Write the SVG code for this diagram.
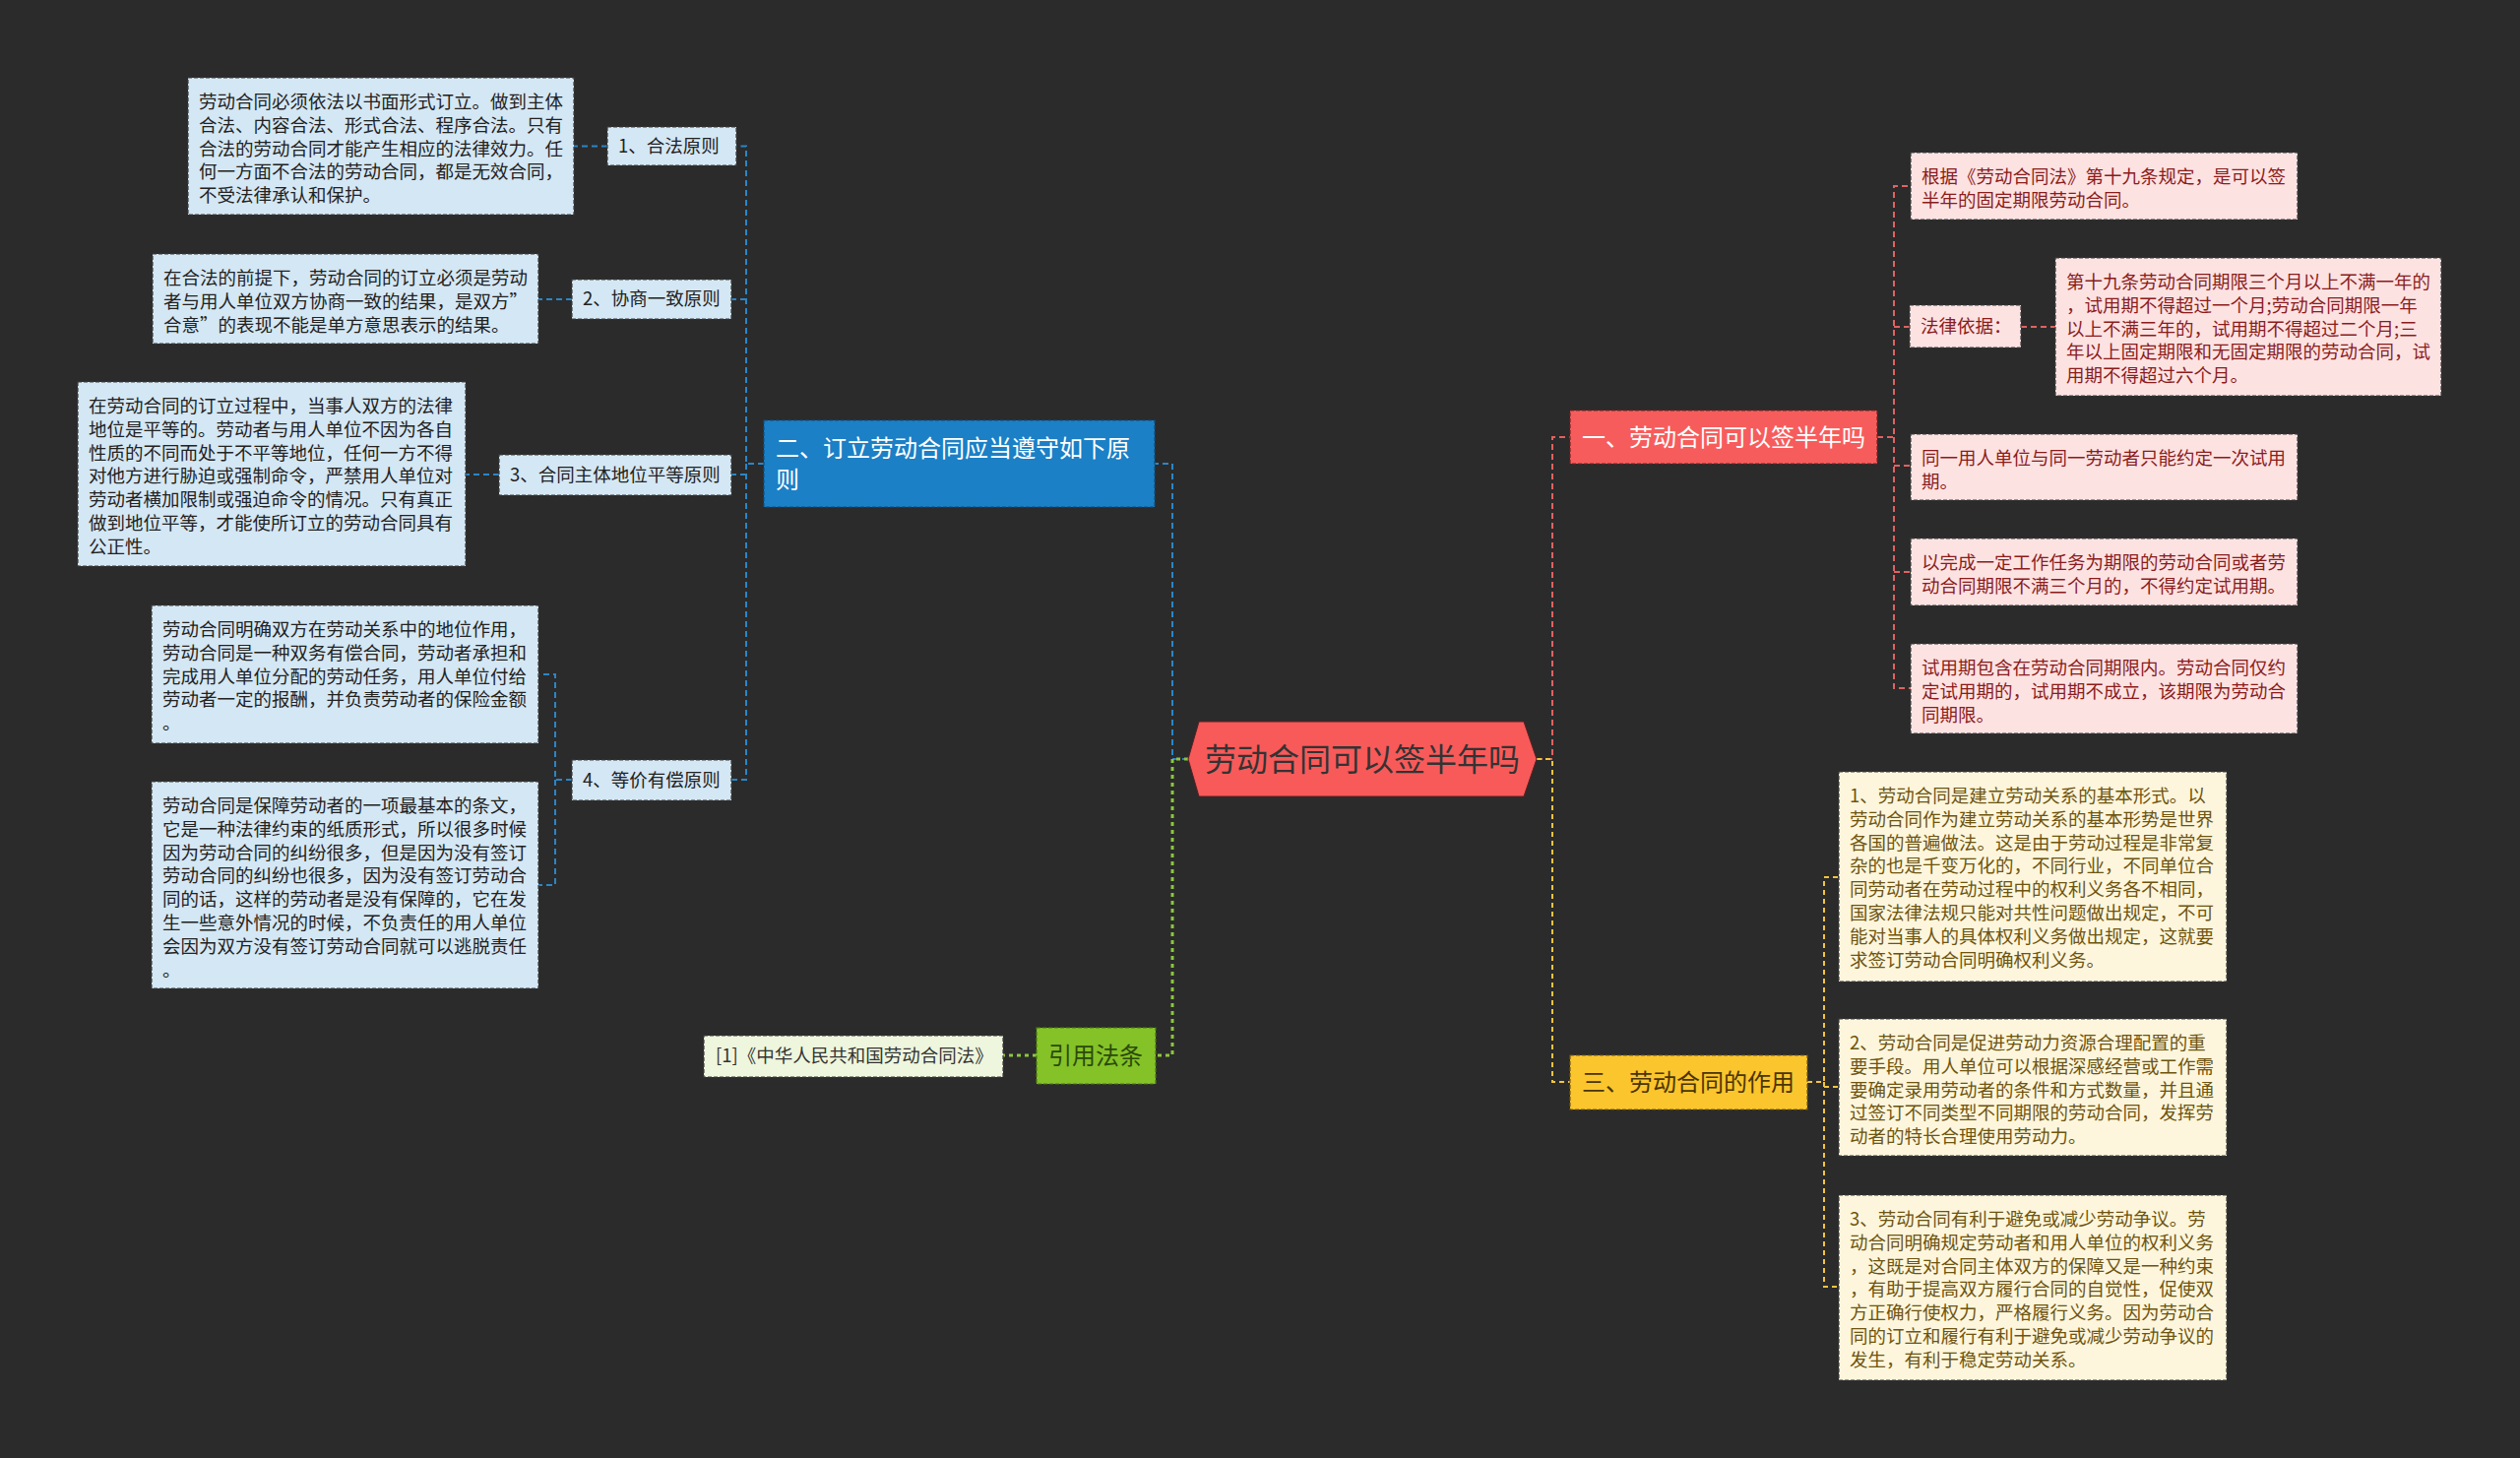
<svg xmlns="http://www.w3.org/2000/svg" width="2560" height="1481" viewBox="0 0 2560 1481">
<style>
text{font-family:"Noto Sans CJK SC","Liberation Sans",sans-serif}
.s{font-size:18.5px}
.m{font-size:24px}
.bl{fill:#d4e7f4;stroke:#3c3c3c;stroke-width:1.2;stroke-dasharray:4 2}
.rd{fill:#fde2e2;stroke:#3c3c3c;stroke-width:1.2;stroke-dasharray:4 2}
.ye{fill:#fdf6dc;stroke:#3c3c3c;stroke-width:1.2;stroke-dasharray:4 2}
.gr{fill:#eef6dd;stroke:#3c3c3c;stroke-width:1.2;stroke-dasharray:4 2}
.tb{fill:#222}
.tr{fill:#8a1c1c}
.ty{fill:#6e5410}
.c{fill:none;stroke-width:2;stroke-dasharray:6 4}
.cb{stroke:#2a86c8}
.cr{stroke:#e06262}
.cy{stroke:#f2c440;stroke-dasharray:5 4}
.cg{stroke:#8cc63f;stroke-width:3;stroke-dasharray:4 4}
</style>
<rect width="2560" height="1481" fill="#2b2b2b"/>
<g id="connectors">
<path class="c cb" d="M1207,771 H1191 V471 H1173"/>
<path class="c cb" d="M776,471 H758 V148.5 H748 M758,304 H743 M758,482 H743 M758,471 V792 H743"/>
<path class="c cb" d="M617,148.5 H583 M581,304 H547 M507,482 H473 M581,792 H564 V685 H547 M564,792 V899 H547"/>
<path class="c cg" d="M1207,771 H1191 V1072 H1174 M1053,1072 H1019"/>
<path class="c cr" d="M1561,771 H1577 V444 H1595"/>
<path class="c cr" d="M1907,444 H1924 V189 H1941 M1924,332 H1940 M1924,444 V699 H1941 M1924,473 H1941 M1924,581 H1941 M2053,332 H2088"/>
<path class="c cy" d="M1561,771 H1577 V1099 H1595"/>
<path class="c cy" d="M1836,1099 H1853 V891 H1868 M1853,1099 V1307 H1868 M1853,1104 H1868"/>
</g>
<g id="center">
<polygon points="1207,771 1218,733 1548,733 1561,771 1548,809 1218,809" fill="#f85a5a" stroke="#5a2020" stroke-width="1"/>
<text x="1384" y="783" text-anchor="middle" font-size="32" fill="#333">劳动合同可以签半年吗</text>
</g>
<g id="n-blue">
<rect x="776" y="427" width="397" height="88" fill="#1b80c6" stroke="#0e4f80" stroke-width="1.2" stroke-dasharray="4 2"/>
<text class="m" fill="#fff"><tspan x="788" y="464">二、订立劳动合同应当遵守如下原</tspan><tspan x="788" y="496">则</tspan></text>
</g>
<g id="n-l1">
<rect class="bl" x="617" y="129" width="131" height="39"/>
<text class="s tb" x="628" y="155">1、合法原则</text>
</g>
<g id="n-l2">
<rect class="bl" x="581" y="284" width="162" height="40"/>
<text class="s tb" x="592" y="310">2、协商一致原则</text>
</g>
<g id="n-l3">
<rect class="bl" x="507" y="462" width="236" height="41"/>
<text class="s tb" x="518" y="489">3、合同主体地位平等原则</text>
</g>
<g id="n-l4">
<rect class="bl" x="581" y="772" width="162" height="41"/>
<text class="s tb" x="592" y="799">4、等价有偿原则</text>
</g>
<g id="n-a">
<rect class="bl" x="191" y="79" width="392" height="139"/>
<text class="s tb"><tspan x="202" y="110">劳动合同必须依法以书面形式订立。做到主体</tspan><tspan x="202" dy="23.8">合法、内容合法、形式合法、程序合法。只有</tspan><tspan x="202" dy="23.8">合法的劳动合同才能产生相应的法律效力。任</tspan><tspan x="202" dy="23.8">何一方面不合法的劳动合同，都是无效合同，</tspan><tspan x="202" dy="23.8">不受法律承认和保护。</tspan></text>
</g>
<g id="n-b">
<rect class="bl" x="155" y="258" width="392" height="91"/>
<text class="s tb"><tspan x="166" y="289">在合法的前提下，劳动合同的订立必须是劳动</tspan><tspan x="166" dy="23.8">者与用人单位双方协商一致的结果，是双方”</tspan><tspan x="166" dy="23.8">合意”的表现不能是单方意思表示的结果。</tspan></text>
</g>
<g id="n-c">
<rect class="bl" x="79" y="388" width="394" height="187"/>
<text class="s tb"><tspan x="90" y="419">在劳动合同的订立过程中，当事人双方的法律</tspan><tspan x="90" dy="23.8">地位是平等的。劳动者与用人单位不因为各自</tspan><tspan x="90" dy="23.8">性质的不同而处于不平等地位，任何一方不得</tspan><tspan x="90" dy="23.8">对他方进行胁迫或强制命令，严禁用人单位对</tspan><tspan x="90" dy="23.8">劳动者横加限制或强迫命令的情况。只有真正</tspan><tspan x="90" dy="23.8">做到地位平等，才能使所订立的劳动合同具有</tspan><tspan x="90" dy="23.8">公正性。</tspan></text>
</g>
<g id="n-d1">
<rect class="bl" x="154" y="615" width="393" height="140"/>
<text class="s tb"><tspan x="165" y="646">劳动合同明确双方在劳动关系中的地位作用，</tspan><tspan x="165" dy="23.8">劳动合同是一种双务有偿合同，劳动者承担和</tspan><tspan x="165" dy="23.8">完成用人单位分配的劳动任务，用人单位付给</tspan><tspan x="165" dy="23.8">劳动者一定的报酬，并负责劳动者的保险金额</tspan><tspan x="165" dy="23.8">。</tspan></text>
</g>
<g id="n-d2">
<rect class="bl" x="154" y="794" width="393" height="210"/>
<text class="s tb"><tspan x="165" y="825">劳动合同是保障劳动者的一项最基本的条文，</tspan><tspan x="165" dy="23.8">它是一种法律约束的纸质形式，所以很多时候</tspan><tspan x="165" dy="23.8">因为劳动合同的纠纷很多，但是因为没有签订</tspan><tspan x="165" dy="23.8">劳动合同的纠纷也很多，因为没有签订劳动合</tspan><tspan x="165" dy="23.8">同的话，这样的劳动者是没有保障的，它在发</tspan><tspan x="165" dy="23.8">生一些意外情况的时候，不负责任的用人单位</tspan><tspan x="165" dy="23.8">会因为双方没有签订劳动合同就可以逃脱责任</tspan><tspan x="165" dy="23.8">。</tspan></text>
</g>
<g id="n-green">
<rect x="1053" y="1044" width="121" height="57" fill="#84c228" stroke="#4a7a10" stroke-width="1.2" stroke-dasharray="4 2"/>
<text class="m" x="1065" y="1081" fill="#2b4a08">引用法条</text>
</g>
<g id="n-cite">
<rect class="gr" x="715" y="1052" width="304" height="42"/>
<text class="s" x="727" y="1079" fill="#333">[1]《中华人民共和国劳动合同法》</text>
</g>
<g id="n-red">
<rect x="1595" y="417" width="312" height="54" fill="#f75c5c" stroke="#7a2020" stroke-width="1.2" stroke-dasharray="4 2"/>
<text class="m" x="1607" y="453" fill="#fff">一、劳动合同可以签半年吗</text>
</g>
<g id="n-r1">
<rect class="rd" x="1941" y="155" width="393" height="68"/>
<text class="s tr"><tspan x="1952" y="186">根据《劳动合同法》第十九条规定，是可以签</tspan><tspan x="1952" dy="23.8">半年的固定期限劳动合同。</tspan></text>
</g>
<g id="n-r2">
<rect class="rd" x="1940" y="310" width="113" height="43"/>
<text class="s tr" x="1951" y="338">法律依据：</text>
</g>
<g id="n-r2b">
<rect class="rd" x="2088" y="262" width="392" height="140"/>
<text class="s tr"><tspan x="2099" y="293">第十九条劳动合同期限三个月以上不满一年的</tspan><tspan x="2099" dy="23.8">，试用期不得超过一个月;劳动合同期限一年</tspan><tspan x="2099" dy="23.8">以上不满三年的，试用期不得超过二个月;三</tspan><tspan x="2099" dy="23.8">年以上固定期限和无固定期限的劳动合同，试</tspan><tspan x="2099" dy="23.8">用期不得超过六个月。</tspan></text>
</g>
<g id="n-r3">
<rect class="rd" x="1941" y="441" width="393" height="67"/>
<text class="s tr"><tspan x="1952" y="472">同一用人单位与同一劳动者只能约定一次试用</tspan><tspan x="1952" dy="23.8">期。</tspan></text>
</g>
<g id="n-r4">
<rect class="rd" x="1941" y="547" width="393" height="68"/>
<text class="s tr"><tspan x="1952" y="578">以完成一定工作任务为期限的劳动合同或者劳</tspan><tspan x="1952" dy="23.8">动合同期限不满三个月的，不得约定试用期。</tspan></text>
</g>
<g id="n-r5">
<rect class="rd" x="1941" y="654" width="393" height="91"/>
<text class="s tr"><tspan x="1952" y="685">试用期包含在劳动合同期限内。劳动合同仅约</tspan><tspan x="1952" dy="23.8">定试用期的，试用期不成立，该期限为劳动合</tspan><tspan x="1952" dy="23.8">同期限。</tspan></text>
</g>
<g id="n-yellow">
<rect x="1595" y="1072" width="241" height="55" fill="#fbc52e" stroke="#7a5a10" stroke-width="1.2" stroke-dasharray="4 2"/>
<text class="m" x="1607" y="1108" fill="#4a3500">三、劳动合同的作用</text>
</g>
<g id="n-y1">
<rect class="ye" x="1868" y="784" width="394" height="213"/>
<text class="s ty"><tspan x="1879" y="815">1、劳动合同是建立劳动关系的基本形式。以</tspan><tspan x="1879" dy="23.8">劳动合同作为建立劳动关系的基本形势是世界</tspan><tspan x="1879" dy="23.8">各国的普遍做法。这是由于劳动过程是非常复</tspan><tspan x="1879" dy="23.8">杂的也是千变万化的，不同行业，不同单位合</tspan><tspan x="1879" dy="23.8">同劳动者在劳动过程中的权利义务各不相同，</tspan><tspan x="1879" dy="23.8">国家法律法规只能对共性问题做出规定，不可</tspan><tspan x="1879" dy="23.8">能对当事人的具体权利义务做出规定，这就要</tspan><tspan x="1879" dy="23.8">求签订劳动合同明确权利义务。</tspan></text>
</g>
<g id="n-y2">
<rect class="ye" x="1868" y="1035" width="394" height="139"/>
<text class="s ty"><tspan x="1879" y="1066">2、劳动合同是促进劳动力资源合理配置的重</tspan><tspan x="1879" dy="23.8">要手段。用人单位可以根据深感经营或工作需</tspan><tspan x="1879" dy="23.8">要确定录用劳动者的条件和方式数量，并且通</tspan><tspan x="1879" dy="23.8">过签订不同类型不同期限的劳动合同，发挥劳</tspan><tspan x="1879" dy="23.8">动者的特长合理使用劳动力。</tspan></text>
</g>
<g id="n-y3">
<rect class="ye" x="1868" y="1214" width="394" height="188"/>
<text class="s ty"><tspan x="1879" y="1245">3、劳动合同有利于避免或减少劳动争议。劳</tspan><tspan x="1879" dy="23.8">动合同明确规定劳动者和用人单位的权利义务</tspan><tspan x="1879" dy="23.8">，这既是对合同主体双方的保障又是一种约束</tspan><tspan x="1879" dy="23.8">，有助于提高双方履行合同的自觉性，促使双</tspan><tspan x="1879" dy="23.8">方正确行使权力，严格履行义务。因为劳动合</tspan><tspan x="1879" dy="23.8">同的订立和履行有利于避免或减少劳动争议的</tspan><tspan x="1879" dy="23.8">发生，有利于稳定劳动关系。</tspan></text>
</g>
</svg>
